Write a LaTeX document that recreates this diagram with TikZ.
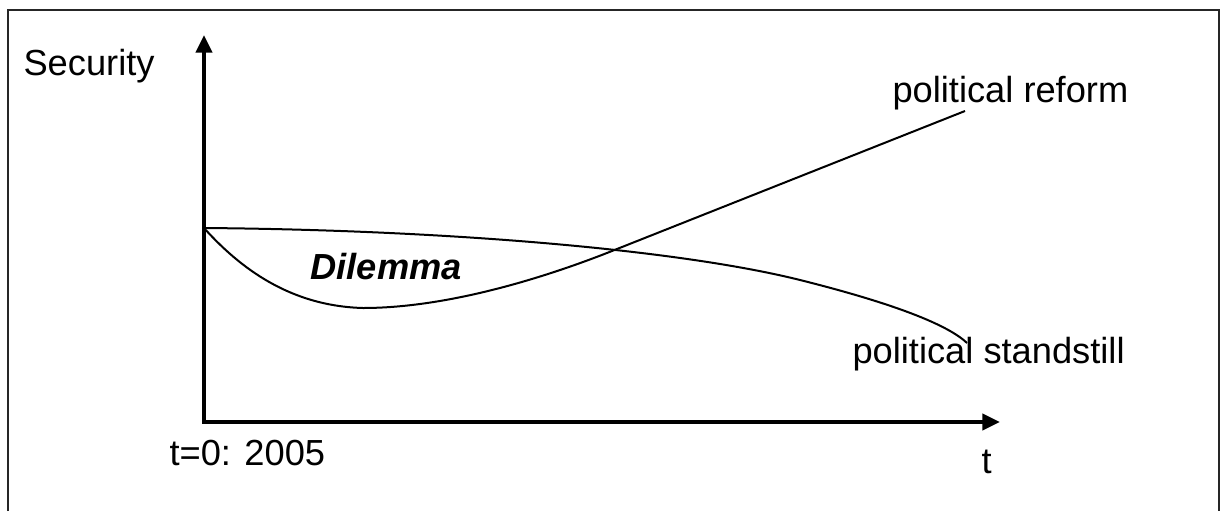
\documentclass[tikz,border=0pt]{standalone}
\usepackage{fontspec}
\setmainfont{Liberation Sans}
\usetikzlibrary{arrows.meta}

\begin{document}
\begin{tikzpicture}[x=0.375pt,y=-0.375pt,
    axis/.style={line width=1.5pt,-{Triangle[length=6.6pt,width=6pt]}},
    curve/.style={line width=0.75pt},
    lbl/.style={inner sep=0pt,anchor=base west,font=\fontsize{13.6}{16}\selectfont}]
      \useasboundingbox (0,0) rectangle (1220,511);
      \draw[line width=0.75pt,black!85] (8,511) -- (8,10) -- (1218.5,10) -- (1218.5,511);
      \coordinate (o) at (204,422);
      \coordinate (s) at (204,228);
      \draw[axis] (o) -- (204,35);
      \draw[axis] ([xshift=-0.75pt]o) -- (1000,422);
      % reform
      \draw[curve] (s) .. controls (240,268) and (290,306) .. (363,308)
          .. controls (450,308) and (550,276) .. (617,249) -- (965,111);
      % standstill
      \draw[curve] (s) .. controls (450,230) and (680,250) .. (800,280)
          .. controls (880,300) and (945,322) .. (967,343);
      \node[lbl] (sec) at (23,75) {Security};
      \node[lbl] (t0) at (169,465) {t=0: 2005};
      \node[lbl] (t) at (981,473) {t};
      \node[lbl] (ref) at (892,102) {political reform};
      \node[lbl] (stand) at (852,363) {political standstill};
      \node[lbl,font=\fontsize{13.6}{16}\selectfont\bfseries\itshape] (dil) at (310,279) {Dilemma};
\end{tikzpicture}
\end{document}
